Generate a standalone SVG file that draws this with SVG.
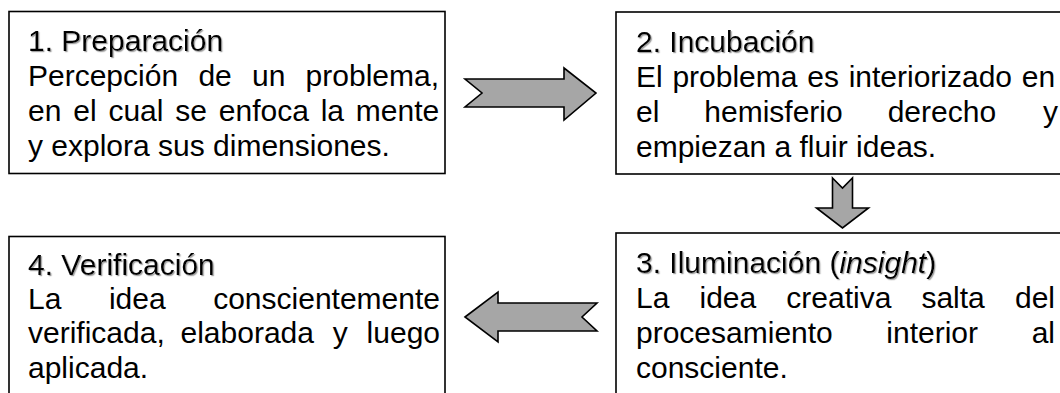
<svg xmlns="http://www.w3.org/2000/svg" width="1060" height="393" viewBox="0 0 1060 393">
<style>
.box{fill:#fff;stroke:#000;stroke-width:1.6}
.t{font-family:"Liberation Sans",Arial,sans-serif;font-size:30px;fill:#000}
.h{filter:url(#sh)}
.arr{fill:#a6a6a6;stroke:#000;stroke-width:1.6;stroke-linejoin:miter}
</style>
<defs>
<filter id="sh" x="-5%" y="-20%" width="110%" height="150%">
<feDropShadow dx="1.2" dy="1.2" stdDeviation="0.4" flood-color="#999" flood-opacity="0.9"/>
</filter>
</defs>
<rect width="1060" height="393" fill="#fff"/>
<g id="connectors">
<polygon class="arr" points="465,79 564,79 564,68 596,93 564,120 564,107 465,107 482,93"/>
<polygon class="arr" points="832.5,178 842.5,188 852.5,178 852.5,208 868.5,208 842.5,228 816.5,208 832.5,208"/>
<polygon class="arr" points="465,317 498,292 498,303 597,303 582,317 597,331 498,331 498,342"/>
</g>
<g id="node1">
<rect class="box" x="9" y="11.5" width="436" height="162"/>
<text class="t h" x="28" y="51">1. Preparación</text>
<text class="t" y="86"><tspan x="28">Percepción</tspan><tspan x="198.4">de</tspan><tspan x="252.1">un</tspan><tspan x="439" text-anchor="end">problema,</tspan></text>
<text class="t" x="28" y="121" word-spacing="3.5">en el cual se enfoca la mente</text>
<text class="t" x="28" y="156">y explora sus dimensiones.</text>
</g>
<g id="node2">
<rect class="box" x="616" y="12" width="460" height="162"/>
<text class="t h" x="636" y="52">2. Incubación</text>
<text class="t" x="636" y="87" word-spacing="1.4">El problema es interiorizado en</text>
<text class="t" y="122"><tspan x="636">el</tspan><tspan x="704.3">hemisferio</tspan><tspan x="887.7">derecho</tspan><tspan x="1058" text-anchor="end">y</tspan></text>
<text class="t" x="636" y="157">empiezan a fluir ideas.</text>
</g>
<g id="node3">
<rect class="box" x="616" y="233" width="460" height="180"/>
<text class="t h" x="636" y="273">3. Iluminación (<tspan font-style="italic">insight</tspan>)</text>
<text class="t" y="308"><tspan x="636">La</tspan><tspan x="699.5">idea</tspan><tspan x="786.3">creativa</tspan><tspan x="921.4">salta</tspan><tspan x="1055" text-anchor="end">del</tspan></text>
<text class="t" y="343"><tspan x="636">procesamiento</tspan><tspan x="886.3">interior</tspan><tspan x="1055" text-anchor="end">al</tspan></text>
<text class="t" x="636" y="378">consciente.</text>
</g>
<g id="node4">
<rect class="box" x="9" y="236.5" width="436" height="180"/>
<text class="t h" x="28" y="275">4. Verificación</text>
<text class="t" y="309"><tspan x="28">La</tspan><tspan x="108.9">idea</tspan><tspan x="440" text-anchor="end">conscientemente</tspan></text>
<text class="t" y="343"><tspan x="28">verificada,</tspan><tspan x="180.5">elaborada</tspan><tspan x="332.7">y</tspan><tspan x="440" text-anchor="end">luego</tspan></text>
<text class="t" x="28" y="378">aplicada.</text>
</g>
</svg>
